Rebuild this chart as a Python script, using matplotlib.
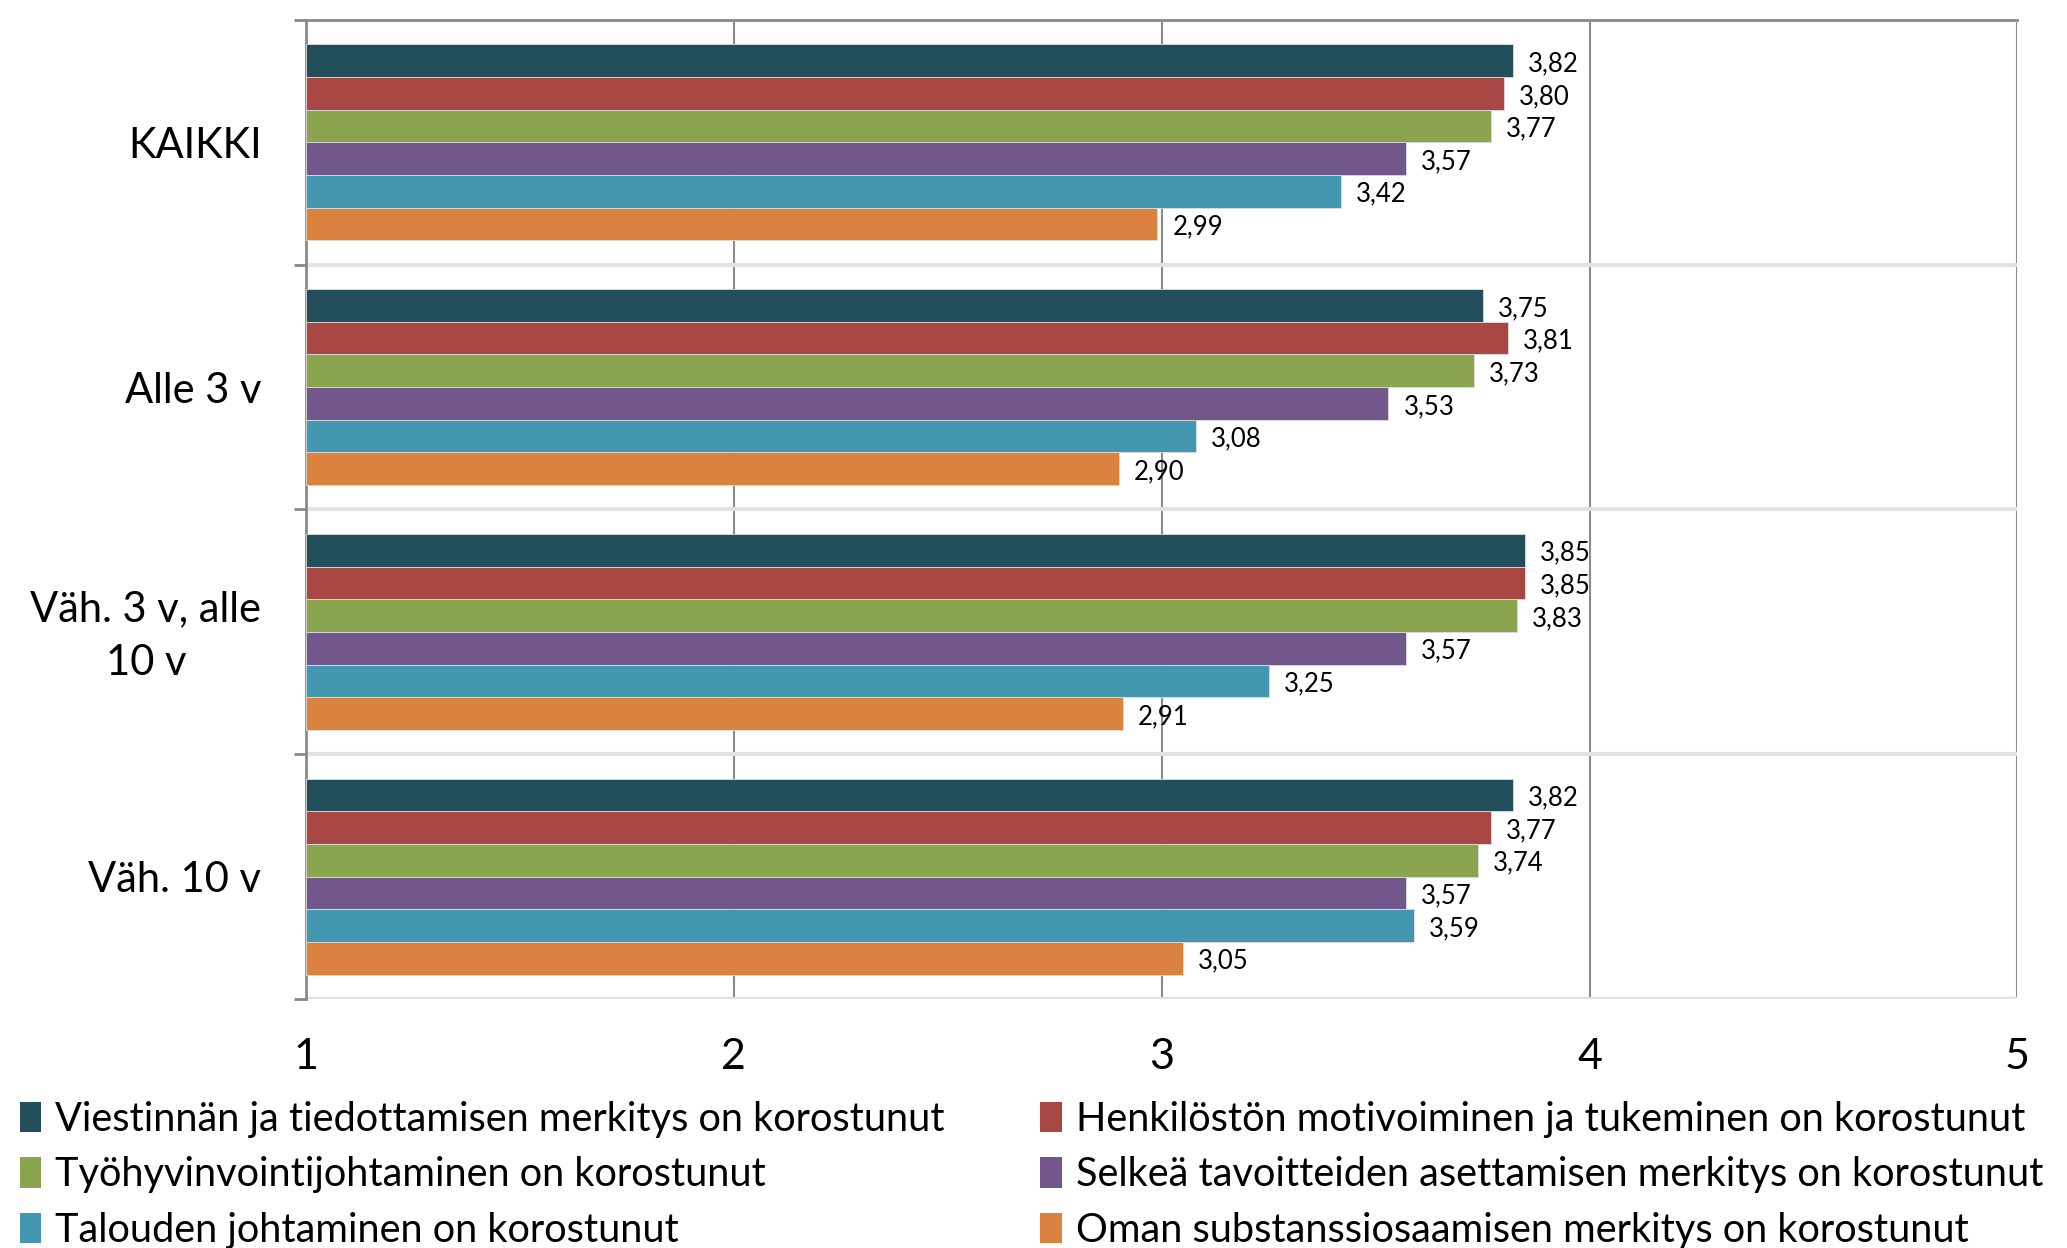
import matplotlib
matplotlib.use("Agg")
import matplotlib.pyplot as plt
from matplotlib.patches import Patch
from matplotlib.transforms import offset_copy
import numpy as np

plt.rcParams['font.family'] = ['Lato', 'DejaVu Sans']

categories = ["KAIKKI", "Alle 3 v", "Väh. 3 v, alle\n10 v", "Väh. 10 v"]
series_names = [
    "Viestinnän ja tiedottamisen merkitys on korostunut",
    "Henkilöstön motivoiminen ja tukeminen on korostunut",
    "Työhyvinvointijohtaminen on korostunut",
    "Selkeä tavoitteiden asettamisen merkitys on korostunut",
    "Talouden johtaminen on korostunut",
    "Oman substanssiosaamisen merkitys on korostunut",
]
viestinta = [3.82, 3.75, 3.85, 3.82]
henkilosto = [3.80, 3.81, 3.85, 3.77]
tyohyvinvointi = [3.77, 3.73, 3.83, 3.74]
tavoitteet = [3.57, 3.53, 3.57, 3.57]
talous = [3.42, 3.08, 3.25, 3.59]
substanssi = [2.99, 2.90, 2.91, 3.05]
series_values = [viestinta, henkilosto, tyohyvinvointi, tavoitteet, talous, substanssi]
colors = ["#234E5C", "#A94745", "#8BA44F", "#71578C", "#4397B0", "#DB823E"]
xticks = [1, 2, 3, 4, 5]

fig = plt.figure(figsize=(20.67, 12.48), dpi=100)
ax = fig.add_axes([0.148, 0.1995, 0.828, 0.7845])

n = len(series_values)
h = 0.8 / n
ypos = np.arange(len(categories))
for j, vals in enumerate(series_values):
    y = ypos + (j - (n - 1) / 2) * h
    ax.barh(y, np.array(vals) - 1, left=1, height=h, color=colors[j],
            edgecolor='#dddddd', linewidth=0.6, zorder=3)
    for yy, v in zip(y, vals):
        ax.text(v + 0.035, yy + 0.012, f"{v:.2f}".replace('.', ','), va='center', ha='left',
                fontsize=18.5, zorder=4)

ax.set_xlim(1, 5)
ax.set_ylim(len(categories) - 0.5, -0.5)
ax.set_xticks(xticks)
ax.set_xticklabels([str(t) for t in xticks], fontsize=31)
ax.tick_params(axis='x', length=0, pad=28)
ax.set_yticks(ypos)
ax.set_yticklabels(categories, fontsize=30, multialignment='center', linespacing=1.5)
ax.tick_params(axis='y', which='major', length=0, pad=32)
for lbl in ax.get_yticklabels():
    if '\n' in lbl.get_text():
        lbl.set_transform(offset_copy(lbl.get_transform(), fig=fig, x=0, y=7, units='dots'))
ax.set_yticks(np.arange(len(categories) + 1) - 0.5, minor=True)
ax.tick_params(axis='y', which='minor', length=9, width=2, color='#888888', direction='out')
ax.grid(axis='x', color='#8a8a8a', linewidth=1.5, zorder=1)
ax.grid(axis='y', which='minor', color='#e3e3e3', linewidth=3, zorder=1)
for s in ['right', 'bottom']:
    ax.spines[s].set_visible(False)
ax.spines['top'].set_color('#8a8a8a')
ax.spines['top'].set_linewidth(2)
ax.spines['left'].set_color('#8a8a8a')
ax.spines['left'].set_linewidth(2)
ax.axhline(len(categories) - 0.5, color='#e3e3e3', linewidth=3, zorder=1)

handles = [Patch(facecolor=c) for c in colors]
order = [0, 2, 4, 1, 3, 5]
fig.legend([handles[i] for i in order], [series_names[i] for i in order],
           loc='upper left', bbox_to_anchor=(-0.004, 0.14), ncol=2, frameon=False,
           fontsize=28.6, handlelength=0.55, handleheight=0.8, handletextpad=0.35,
           columnspacing=2.4, labelspacing=0.46, borderpad=0.2)

fig.savefig("out.png", dpi=100)
